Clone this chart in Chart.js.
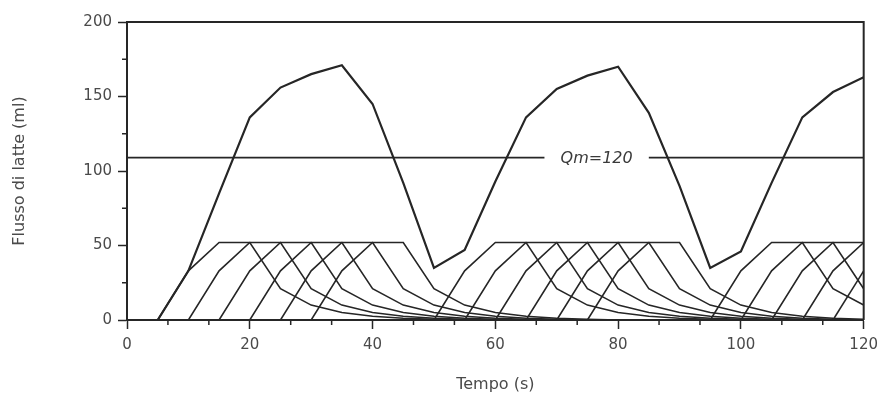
<!DOCTYPE html>
<html>
<head>
<meta charset="utf-8">
<script src="https://cdn.jsdelivr.net/npm/chart.js@4.4.1/dist/chart.umd.min.js"></script>
<style>
  html, body { margin: 0; padding: 0; background: #fff; }
  #box { width: 885px; height: 398px; }
</style>
</head>
<body>
<div id="box"><canvas id="grafico"></canvas></div>
<script>
// asse dei tempi (s)
const tempo = [0, 5, 10, 15, 20, 25, 30, 35, 40, 45, 50, 55, 60, 65, 70, 75, 80, 85, 90, 95, 100, 105, 110, 115, 120];
const tickX = [0, 20, 40, 60, 80, 100, 120];
const tickY = [0, 50, 100, 150, 200];

const _ = null;

// flusso totale
const flussoTotale = [_, 0, 33, 85, 136, 156, 165, 171, 145, 92, 35, 47, 93, 136, 155, 164, 170, 139, 90, 35, 46, 92, 136, 153, 163];

// singole curve (una per avvio, ogni 5 s)
const avvio05  = [_, 0, 33, 52, 52, 21, 10, 5, 2.5, 1.2, 0.5, 0, _, _, _, _, _, _, _, _, _, _, _, _, _];
const avvio10  = [_, _, 0, 33, 52, 52, 21, 10, 5, 2.5, 1.2, 0.5, 0, _, _, _, _, _, _, _, _, _, _, _, _];
const avvio15  = [_, _, _, 0, 33, 52, 52, 21, 10, 5, 2.5, 1.2, 0.5, 0, _, _, _, _, _, _, _, _, _, _, _];
const avvio20  = [_, _, _, _, 0, 33, 52, 52, 21, 10, 5, 2.5, 1.2, 0.5, 0, _, _, _, _, _, _, _, _, _, _];
const avvio25  = [_, _, _, _, _, 0, 33, 52, 52, 21, 10, 5, 2.5, 1.2, 0.5, 0, _, _, _, _, _, _, _, _, _];
const avvio30  = [_, _, _, _, _, _, 0, 33, 52, 52, 21, 10, 5, 2.5, 1.2, 0.5, 0, _, _, _, _, _, _, _, _];
const avvio50  = [_, _, _, _, _, _, _, _, _, _, 0, 33, 52, 52, 21, 10, 5, 2.5, 1.2, 0.5, 0, _, _, _, _];
const avvio55  = [_, _, _, _, _, _, _, _, _, _, _, 0, 33, 52, 52, 21, 10, 5, 2.5, 1.2, 0.5, 0, _, _, _];
const avvio60  = [_, _, _, _, _, _, _, _, _, _, _, _, 0, 33, 52, 52, 21, 10, 5, 2.5, 1.2, 0.5, 0, _, _];
const avvio65  = [_, _, _, _, _, _, _, _, _, _, _, _, _, 0, 33, 52, 52, 21, 10, 5, 2.5, 1.2, 0.5, 0, _];
const avvio70  = [_, _, _, _, _, _, _, _, _, _, _, _, _, _, 0, 33, 52, 52, 21, 10, 5, 2.5, 1.2, 0.5, 0];
const avvio75  = [_, _, _, _, _, _, _, _, _, _, _, _, _, _, _, 0, 33, 52, 52, 21, 10, 5, 2.5, 1.2, 0.5];
const avvio95  = [_, _, _, _, _, _, _, _, _, _, _, _, _, _, _, _, _, _, _, 0, 33, 52, 52, 21, 10];
const avvio100 = [_, _, _, _, _, _, _, _, _, _, _, _, _, _, _, _, _, _, _, _, 0, 33, 52, 52, 21];
const avvio105 = [_, _, _, _, _, _, _, _, _, _, _, _, _, _, _, _, _, _, _, _, _, 0, 33, 52, 52];
const avvio110 = [_, _, _, _, _, _, _, _, _, _, _, _, _, _, _, _, _, _, _, _, _, _, 0, 33, 52];
const avvio115 = [_, _, _, _, _, _, _, _, _, _, _, _, _, _, _, _, _, _, _, _, _, _, _, 0, 33];

// linea Qm (interrotta dove c'è l'etichetta)
const qmValore = 109;
const qmEtichetta = 'Qm=120';
const qmLinea = [{x: 0, y: qmValore}, {x: 68, y: qmValore}, {x: 68, y: null}, {x: 85, y: qmValore}, {x: 120, y: qmValore}];

const singole = [avvio05, avvio10, avvio15, avvio20, avvio25, avvio30,
                 avvio50, avvio55, avvio60, avvio65, avvio70, avvio75,
                 avvio95, avvio100, avvio105, avvio110, avvio115];

const nero = '#262626';
const grigio = '#4a4a4a';

const datasets = singole.map(function (d) {
  return { data: d, borderColor: nero, borderWidth: 1.6, pointRadius: 0, tension: 0, fill: false };
});
datasets.push({ data: flussoTotale, borderColor: nero, borderWidth: 2.2, pointRadius: 0, tension: 0, fill: false });
datasets.push({ data: qmLinea, borderColor: nero, borderWidth: 1.8, pointRadius: 0, tension: 0, fill: false, spanGaps: false });

Chart.defaults.font.family = '"DejaVu Sans", sans-serif';

// cornice, tacche minori ed etichetta Qm
const extra = {
  id: 'extra',
  afterDraw(chart) {
    const ctx = chart.ctx;
    const a = chart.chartArea;
    const sx = chart.scales.x;
    const sy = chart.scales.y;
    ctx.save();
    ctx.strokeStyle = nero;
    ctx.lineWidth = 2;
    ctx.beginPath();
    ctx.moveTo(a.left, a.top);
    ctx.lineTo(a.right, a.top);
    ctx.lineTo(a.right, a.bottom);
    ctx.stroke();

    ctx.lineWidth = 1.5;
    ctx.beginPath();
    for (let i = 1; i < 18; i++) {
      if (i % 3 === 0) continue;
      const px = sx.getPixelForValue(i * 20 / 3);
      ctx.moveTo(px, a.bottom);
      ctx.lineTo(px, a.bottom + 5);
    }
    for (let v = 25; v < 200; v += 50) {
      const py = sy.getPixelForValue(v);
      ctx.moveTo(a.left, py);
      ctx.lineTo(a.left - 5, py);
    }
    ctx.stroke();

    ctx.fillStyle = '#3a3a3a';
    ctx.font = 'italic 16px "DejaVu Sans", sans-serif';
    ctx.textAlign = 'center';
    ctx.textBaseline = 'middle';
    ctx.fillText(qmEtichetta, sx.getPixelForValue(76.5), sy.getPixelForValue(qmValore) + 1);
    ctx.restore();
  }
};

new Chart(document.getElementById('grafico'), {
  type: 'line',
  data: { labels: tempo, datasets: datasets },
  options: {
    responsive: true,
    maintainAspectRatio: false,
    animation: false,
    layout: { padding: { top: 22, right: 18, left: 0, bottom: 0 } },
    plugins: { legend: { display: false }, tooltip: { enabled: false } },
    scales: {
      x: {
        type: 'linear',
        min: 0,
        max: 120,
        afterBuildTicks: function (s) { s.ticks = tickX.map(function (v) { return { value: v }; }); },
        afterFit: function (s) { s.height = 78; },
        ticks: { color: grigio, font: { size: 15 }, padding: 7, autoSkip: false, maxRotation: 0 },
        grid: { drawOnChartArea: false, drawTicks: true, tickLength: 9, tickColor: nero, tickWidth: 1.5 },
        border: { color: nero, width: 2 },
        title: { display: true, text: 'Tempo (s)', color: grigio, font: { size: 16 }, padding: { top: 0, bottom: 4 } }
      },
      y: {
        min: 0,
        max: 200,
        afterBuildTicks: function (s) { s.ticks = tickY.map(function (v) { return { value: v }; }); },
        afterFit: function (s) { s.width = 127; },
        ticks: { color: grigio, font: { size: 15 }, padding: 6 },
        grid: { drawOnChartArea: false, drawTicks: true, tickLength: 9, tickColor: nero, tickWidth: 1.5 },
        border: { color: nero, width: 2 },
        title: { display: true, text: 'Flusso di latte (ml)', color: grigio, font: { size: 16 }, padding: { top: 10, bottom: 0 } }
      }
    }
  },
  plugins: [extra]
});
</script>
</body>
</html>
